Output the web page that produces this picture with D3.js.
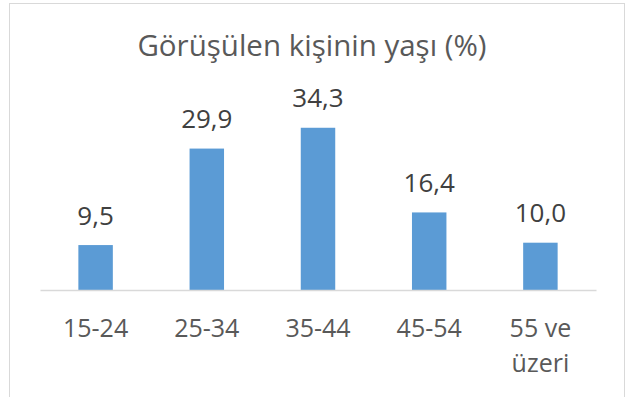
<!DOCTYPE html>
<html>
<head>
<meta charset="utf-8">
<script src="https://cdn.jsdelivr.net/npm/d3@7"></script>
<style>
  html, body { margin: 0; padding: 0; background: #fff; }
  svg { display: block; }
  text { font-family: "Open Sans", "Noto Sans", sans-serif; }
</style>
</head>
<body>
<script>
// Age groups of respondents (%)
const categories = ["15-24", "25-34", "35-44", "45-54", "55 ve üzeri"];
const values = [9.5, 29.9, 34.3, 16.4, 10.0];
const title = "Görüşülen kişinin yaşı (%)";

const W = 627, H = 397;
const plot = { left: 40, right: 596, top: 100.8, bottom: 290 };

const svg = d3.select("body").append("svg")
  .attr("width", W).attr("height", H);

// chart frame
svg.append("rect")
  .attr("x", 9.5).attr("y", 3.5)
  .attr("width", 615).attr("height", 420)
  .attr("fill", "#fff")
  .attr("stroke", "#d9d9d9").attr("stroke-width", 1);

const x = d3.scaleBand()
  .domain(categories)
  .range([plot.left, plot.right])
  .paddingInner(0.69).paddingOuter(0.345);

const y = d3.scaleLinear().domain([0, 40]).range([plot.bottom, plot.top]);

// title
svg.append("text")
  .attr("x", 312).attr("y", 56)
  .attr("text-anchor", "middle")
  .attr("font-size", 29.5)
  .attr("fill", "#595959")
  .text(title);

// bars
svg.selectAll("rect.bar").data(values).join("rect")
  .attr("class", "bar")
  .attr("x", (d, i) => x(categories[i]))
  .attr("width", x.bandwidth())
  .attr("y", d => y(d))
  .attr("height", d => y(0) - y(d))
  .attr("fill", "#5b9bd5");

// value labels
const fmt = d => d.toFixed(1).replace(".", ",");
svg.selectAll("text.val").data(values).join("text")
  .attr("class", "val")
  .attr("x", (d, i) => x(categories[i]) + x.bandwidth() / 2)
  .attr("y", d => y(d) - 20.5)
  .attr("text-anchor", "middle")
  .attr("font-size", 26)
  .attr("fill", "#404040")
  .text(fmt);

// category axis
const axis = d3.axisBottom(x).tickSize(0).tickPadding(0);
const g = svg.append("g")
  .attr("transform", `translate(0,${plot.bottom})`)
  .call(axis);
g.select(".domain").attr("stroke", "#d9d9d9").attr("stroke-width", 1.5);
g.selectAll(".tick text").remove();

// category labels, wrapped onto two lines where needed
const wrapped = { "55 ve üzeri": ["55 ve", "üzeri"] };
g.selectAll(".tick").each(function(d) {
  const lines = wrapped[d] || [d];
  const t = d3.select(this).append("text")
    .attr("text-anchor", "middle")
    .attr("font-size", 25)
    .attr("fill", "#595959");
  lines.forEach((ln, k) => {
    t.append("tspan").attr("x", 0).attr("y", 47 + k * 35).text(ln);
  });
});
</script>
</body>
</html>
